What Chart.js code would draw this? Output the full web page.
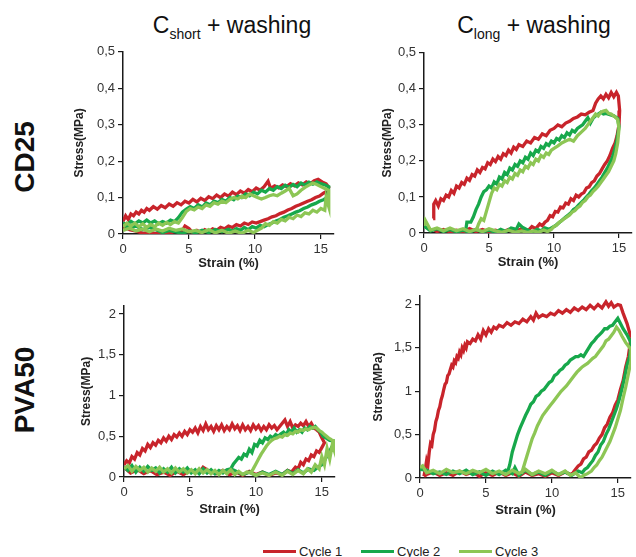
<!DOCTYPE html>
<html>
<head>
<meta charset="utf-8">
<script src="https://cdn.jsdelivr.net/npm/chart.js@4.4.0/dist/chart.umd.min.js"></script>
<style>
    body { margin: 0; background: #fff; font-family: "Liberation Sans", Arial, sans-serif; }
    #page { position: relative; width: 636px; height: 557px; overflow: hidden; }
    #page canvas { position: absolute; }
    .col-title { position: absolute; top: 14px; font-size: 23px; line-height: 23px; color: #111; white-space: nowrap; transform: translateX(-50%); }
    .col-title sub { font-size: 14px; }
    .row-label { position: absolute; font-size: 28px; font-weight: bold; color: #111; white-space: nowrap; transform: translate(-50%, -50%) rotate(-90deg); }
    .legend-item { position: absolute; top: 544px; font-size: 13px; color: #222; white-space: nowrap; line-height: 16px; }
    .legend-item span { display: inline-block; width: 33px; height: 3px; margin-right: 3px; vertical-align: middle; position: relative; top: -1px; }
</style>
</head>
<body>
<div id="page">
    <div class="col-title" style="left:232px">C<sub>short</sub> + washing</div>
    <div class="col-title" style="left:534px">C<sub>long</sub> + washing</div>
    <div class="row-label" style="left:25px; top:157px">CD25</div>
    <div class="row-label" style="left:25px; top:390px">PVA50</div>
    <div id="legend"></div>
</div>
<script>
const strainTicks = [0, 5, 10, 15];
const stressTicksCD25 = [0, 0.1, 0.2, 0.3, 0.4, 0.5];
const stressTicksPVA50 = [0, 0.5, 1, 1.5, 2];
const cycleLabels = ['Cycle 1', 'Cycle 2', 'Cycle 3'];
const cycleColors = ['#c8242b', '#17a84b', '#8dc655'];

// Cshort + washing, CD25
const shortCD25Cycle1 = [[0,0.035],[0.2,0.05],[0.4,0.04],[0.6,0.055],[0.8,0.05],[1.0,0.06],[1.2,0.055],[1.4,0.065],[1.6,0.06],[1.8,0.07],[2.0,0.065],[2.3,0.075],[2.6,0.068],[2.9,0.078],[3.2,0.072],[3.5,0.082],[3.8,0.076],[4.1,0.086],[4.4,0.08],[4.7,0.09],[5.0,0.085],[5.3,0.095],[5.6,0.088],[5.9,0.098],[6.2,0.092],[6.5,0.102],[6.8,0.097],[7.1,0.107],[7.4,0.1],[7.7,0.11],[8.0,0.104],[8.3,0.115],[8.6,0.108],[8.9,0.118],[9.2,0.112],[9.5,0.122],[9.8,0.116],[10.1,0.126],[10.4,0.12],[10.7,0.13],[11.0,0.145],[11.2,0.125],[11.5,0.132],[11.8,0.127],[12.1,0.135],[12.4,0.13],[12.7,0.138],[13.0,0.132],[13.3,0.14],[13.6,0.135],[13.9,0.143],[14.2,0.138],[14.5,0.146],[14.8,0.15],[15.1,0.143],[15.4,0.138],[15.6,0.128],
    [15.5,0.118],[15.2,0.112],[14.9,0.104],[14.6,0.1],[14.3,0.094],[14.0,0.09],[13.7,0.085],[13.4,0.08],[13.1,0.076],[12.8,0.07],[12.5,0.066],[12.2,0.06],[11.9,0.056],[11.6,0.05],[11.3,0.047],[11.0,0.042],[10.7,0.038],[10.4,0.034],[10.1,0.03],[9.8,0.033],[9.5,0.026],[9.2,0.03],[8.9,0.022],[8.6,0.026],[8.3,0.018],[8.0,0.022],[7.7,0.014],[7.4,0.018],[7.1,0.01],[6.8,0.014],[6.5,0.006],[6.2,0.012],[5.9,0.004],[5.6,0.01],[5.3,0.003],[5.0,0.015],[4.7,0.022],[4.4,0.004],[4.0,0.008],[3.5,0.002],[3.0,0.006],[2.5,0.001],[2.0,0.005],[1.5,0.002],[1.0,0.008],[0.5,0.012],[0,0.02]];
const shortCD25Cycle2 = [[0,0.03],[0.3,0.025],[0.6,0.035],[0.9,0.028],[1.2,0.036],[1.5,0.03],[1.8,0.038],[2.1,0.03],[2.4,0.036],[2.7,0.028],[3.0,0.034],[3.3,0.03],[3.6,0.038],[3.9,0.034],[4.2,0.045],[4.5,0.06],[4.8,0.068],[5.1,0.075],[5.4,0.07],[5.7,0.08],[6.0,0.074],[6.3,0.085],[6.6,0.08],[6.9,0.09],[7.2,0.086],[7.5,0.095],[7.8,0.09],[8.1,0.1],[8.4,0.094],[8.7,0.104],[9.0,0.1],[9.3,0.11],[9.6,0.105],[9.9,0.115],[10.2,0.11],[10.5,0.12],[10.8,0.115],[11.1,0.125],[11.4,0.12],[11.7,0.13],[12.0,0.125],[12.3,0.134],[12.6,0.128],[12.9,0.136],[13.2,0.13],[13.5,0.14],[13.8,0.134],[14.1,0.142],[14.4,0.137],[14.7,0.143],[15.0,0.138],[15.3,0.135],[15.6,0.13],
    [15.5,0.1],[15.2,0.094],[14.9,0.09],[14.6,0.084],[14.3,0.08],[14.0,0.074],[13.7,0.07],[13.4,0.064],[13.1,0.06],[12.8,0.055],[12.5,0.05],[12.2,0.046],[11.9,0.04],[11.6,0.036],[11.3,0.03],[11.0,0.026],[10.7,0.02],[10.4,0.024],[10.1,0.016],[9.8,0.02],[9.5,0.012],[9.2,0.018],[8.9,0.01],[8.6,0.015],[8.3,0.008],[8.0,0.013],[7.5,0.006],[7.0,0.012],[6.5,0.004],[6.0,0.01],[5.5,0.003],[5.0,0.008],[4.5,0.002],[4.0,0.006],[3.5,0.01],[3.0,0.004],[2.5,0.012],[2.0,0.018],[1.5,0.012],[1.0,0.022],[0.5,0.016],[0,0.025]];
const shortCD25Cycle3 = [[0,0.02],[0.3,0.03],[0.6,0.022],[0.9,0.03],[1.2,0.02],[1.5,0.028],[1.8,0.018],[2.1,0.026],[2.4,0.02],[2.7,0.03],[3.0,0.024],[3.3,0.032],[3.6,0.026],[3.9,0.034],[4.2,0.03],[4.5,0.045],[4.8,0.062],[5.1,0.07],[5.4,0.066],[5.7,0.074],[6.0,0.07],[6.3,0.08],[6.6,0.076],[6.9,0.086],[7.2,0.082],[7.5,0.09],[7.8,0.086],[8.1,0.095],[8.4,0.1],[8.7,0.096],[9.0,0.104],[9.3,0.1],[9.6,0.11],[9.9,0.105],[10.2,0.1],[10.5,0.096],[10.8,0.1],[11.1,0.105],[11.4,0.108],[11.7,0.105],[12.0,0.112],[12.3,0.118],[12.6,0.125],[12.9,0.105],[13.2,0.11],[13.5,0.12],[13.8,0.128],[14.1,0.134],[14.4,0.14],[14.7,0.136],[15.0,0.13],[15.3,0.125],[15.6,0.12],
    [15.6,0.075],[15.4,0.1],[15.3,0.065],[15.0,0.07],[14.7,0.06],[14.4,0.065],[14.1,0.055],[13.8,0.058],[13.5,0.048],[13.2,0.052],[12.9,0.042],[12.6,0.046],[12.3,0.036],[12.0,0.04],[11.7,0.03],[11.4,0.034],[11.1,0.024],[10.8,0.028],[10.5,0.016],[10.2,0.01],[9.9,0.004],[9.5,0.01],[9.0,0.002],[8.5,0.008],[8.0,0.002],[7.5,0.01],[7.0,0.003],[6.5,0.012],[6.0,0.004],[5.5,0.01],[5.0,0.006],[4.5,0.014],[4.0,0.01],[3.5,0.016],[3.0,0.008],[2.5,0.014],[2.0,0.006],[1.5,0.014],[1.0,0.008],[0.5,0.016],[0,0.01]];

// Clong + washing, CD25
const longCD25Cycle1 = [[0.7,0.04],[0.75,0.08],[0.9,0.09],[1.1,0.075],[1.3,0.095],[1.5,0.09],[1.7,0.105],[1.9,0.1],[2.1,0.118],[2.3,0.11],[2.5,0.13],[2.7,0.125],[2.9,0.14],[3.1,0.135],[3.3,0.152],[3.5,0.146],[3.7,0.162],[3.9,0.158],[4.1,0.175],[4.3,0.168],[4.5,0.182],[4.7,0.178],[4.9,0.195],[5.1,0.19],[5.3,0.205],[5.5,0.198],[5.7,0.212],[5.9,0.205],[6.1,0.22],[6.3,0.215],[6.5,0.23],[6.7,0.222],[6.9,0.238],[7.1,0.232],[7.3,0.245],[7.6,0.24],[7.9,0.255],[8.2,0.25],[8.5,0.265],[8.8,0.26],[9.1,0.275],[9.4,0.27],[9.7,0.285],[10.0,0.29],[10.3,0.3],[10.6,0.295],[10.9,0.305],[11.2,0.31],[11.5,0.318],[11.8,0.322],[12.1,0.33],[12.4,0.328],[12.7,0.335],[13.0,0.34],[13.2,0.36],[13.4,0.372],[13.6,0.38],[13.8,0.372],[14.0,0.385],[14.2,0.375],[14.4,0.39],[14.6,0.378],[14.8,0.39],[14.95,0.38],[15.05,0.34],[15.0,0.3],
    [14.85,0.27],[14.7,0.25],[14.5,0.235],[14.3,0.215],[14.1,0.2],[13.9,0.19],[13.7,0.178],[13.5,0.165],[13.3,0.158],[13.1,0.145],[12.9,0.14],[12.7,0.128],[12.5,0.125],[12.3,0.112],[12.1,0.108],[11.9,0.1],[11.7,0.105],[11.5,0.09],[11.3,0.095],[11.1,0.08],[10.9,0.083],[10.7,0.07],[10.5,0.072],[10.3,0.058],[10.1,0.06],[9.9,0.045],[9.7,0.048],[9.5,0.035],[9.3,0.03],[9.1,0.02],[8.9,0.025],[8.6,0.012],[8.3,0.018],[8.0,0.006],[7.5,0.012],[7.0,0.004],[6.5,0.01],[6.0,0.002],[5.5,0.008],[5.0,0.003],[4.5,0.01],[4.0,0.004],[3.5,0.012],[3.0,0.002],[2.5,0.008],[2.0,0.003],[1.5,0.01],[1.0,0.004],[0.7,0.01]];
const longCD25Cycle2 = [[3.2,0.005],[3.3,0.03],[3.6,0.03],[3.8,0.045],[4.0,0.065],[4.2,0.08],[4.4,0.1],[4.6,0.115],[4.8,0.12],[5.0,0.13],[5.2,0.125],[5.4,0.142],[5.6,0.136],[5.8,0.155],[6.0,0.15],[6.2,0.168],[6.4,0.162],[6.6,0.18],[6.8,0.175],[7.0,0.19],[7.2,0.185],[7.4,0.2],[7.6,0.195],[7.8,0.21],[8.0,0.205],[8.2,0.222],[8.4,0.215],[8.6,0.23],[8.8,0.225],[9.0,0.24],[9.2,0.235],[9.4,0.248],[9.6,0.243],[9.8,0.255],[10.0,0.25],[10.2,0.262],[10.4,0.258],[10.6,0.27],[10.8,0.265],[11.0,0.278],[11.2,0.272],[11.4,0.285],[11.6,0.28],[11.8,0.29],[12.0,0.295],[12.2,0.3],[12.4,0.31],[12.6,0.32],[12.8,0.305],[13.0,0.318],[13.2,0.325],[13.4,0.33],[13.6,0.335],[13.8,0.33],[14.0,0.332],[14.3,0.328],[14.6,0.325],[14.9,0.318],[15.0,0.295],
    [14.85,0.26],[14.7,0.235],[14.5,0.21],[14.3,0.195],[14.1,0.18],[13.9,0.168],[13.7,0.155],[13.5,0.145],[13.3,0.135],[13.1,0.125],[12.9,0.118],[12.7,0.108],[12.5,0.1],[12.3,0.092],[12.1,0.085],[11.9,0.078],[11.7,0.07],[11.5,0.065],[11.3,0.056],[11.1,0.05],[10.9,0.044],[10.7,0.038],[10.5,0.032],[10.3,0.026],[10.1,0.02],[9.9,0.016],[9.6,0.01],[9.3,0.014],[9.0,0.006],[8.7,0.01],[8.3,0.002],[8.0,0.008],[7.6,0.015],[7.3,0.025],[7.1,0.01],[6.7,0.014],[6.3,0.004],[5.9,0.01],[5.5,0.002],[5.0,0.008],[4.5,0.003],[4.0,0.01],[3.5,0.002],[3.0,0.008],[2.5,0.003],[2.0,0.01],[1.5,0.004],[1.0,0.012],[0.5,0.006],[0,0.02]];
const longCD25Cycle3 = [[4.0,0.005],[4.2,0.025],[4.4,0.04],[4.6,0.035],[4.8,0.06],[5.0,0.085],[5.2,0.11],[5.4,0.125],[5.6,0.12],[5.8,0.135],[6.0,0.13],[6.2,0.145],[6.4,0.14],[6.6,0.155],[6.8,0.15],[7.0,0.165],[7.2,0.16],[7.4,0.175],[7.6,0.17],[7.8,0.185],[8.0,0.18],[8.2,0.195],[8.4,0.19],[8.6,0.205],[8.8,0.2],[9.0,0.215],[9.2,0.21],[9.4,0.222],[9.6,0.218],[9.8,0.23],[10.0,0.235],[10.3,0.242],[10.6,0.25],[10.9,0.255],[11.2,0.26],[11.5,0.255],[11.8,0.27],[12.1,0.28],[12.4,0.29],[12.7,0.305],[13.0,0.32],[13.2,0.33],[13.4,0.325],[13.6,0.335],[13.8,0.338],[14.0,0.34],[14.2,0.332],[14.4,0.33],[14.7,0.322],[14.9,0.315],[15.0,0.29],
    [14.9,0.25],[14.75,0.22],[14.6,0.2],[14.4,0.185],[14.2,0.17],[14.0,0.16],[13.8,0.15],[13.6,0.14],[13.4,0.13],[13.2,0.122],[13.0,0.115],[12.8,0.105],[12.6,0.1],[12.4,0.09],[12.2,0.085],[12.0,0.075],[11.8,0.07],[11.6,0.062],[11.4,0.058],[11.2,0.05],[11.0,0.045],[10.8,0.04],[10.6,0.034],[10.4,0.03],[10.2,0.022],[10.0,0.018],[9.8,0.01],[9.5,0.004],[9.2,0.008],[8.8,0.002],[8.4,0.006],[8.0,0.001],[7.5,0.006],[7.0,0.002],[6.5,0.008],[6.0,0.002],[5.5,0.006],[5.0,0.012],[4.5,0.004],[4.0,0.01],[3.5,0.004],[3.0,0.012],[2.5,0.006],[2.0,0.014],[1.5,0.006],[1.0,0.014],[0.5,0.008],[0.1,0.035],[0,0.02]];

// Cshort + washing, PVA50
const shortPVA50Cycle1 = [[0,0.15],[0.2,0.2],[0.4,0.17],[0.6,0.25],[0.8,0.22],[1.0,0.3],[1.2,0.27],[1.4,0.35],[1.6,0.32],[1.8,0.4],[2.0,0.36],[2.2,0.42],[2.4,0.39],[2.6,0.45],[2.8,0.42],[3.0,0.48],[3.2,0.44],[3.4,0.5],[3.6,0.46],[3.8,0.52],[4.0,0.49],[4.2,0.54],[4.4,0.5],[4.6,0.56],[4.8,0.52],[5.0,0.58],[5.2,0.55],[5.4,0.6],[5.6,0.54],[5.8,0.62],[6.0,0.57],[6.2,0.65],[6.4,0.58],[6.6,0.62],[6.8,0.56],[7.0,0.63],[7.2,0.58],[7.4,0.64],[7.6,0.57],[7.8,0.62],[8.0,0.58],[8.2,0.65],[8.4,0.59],[8.6,0.63],[8.8,0.57],[9.0,0.64],[9.2,0.58],[9.4,0.62],[9.6,0.57],[9.8,0.64],[10.0,0.59],[10.2,0.63],[10.4,0.57],[10.6,0.62],[10.8,0.58],[11.0,0.64],[11.2,0.6],[11.4,0.63],[11.6,0.58],[11.8,0.62],[12.0,0.66],[12.2,0.7],[12.4,0.62],[12.6,0.68],[12.8,0.6],[13.0,0.64],[13.2,0.62],[13.4,0.66],[13.6,0.63],[13.8,0.68],[14.0,0.62],[14.2,0.66],[14.4,0.6],[14.6,0.58],[14.8,0.55],[15.0,0.48],[15.2,0.42],
    [15.0,0.36],[14.8,0.3],[14.6,0.32],[14.4,0.25],[14.2,0.27],[14.0,0.2],[13.8,0.22],[13.6,0.15],[13.4,0.18],[13.2,0.1],[13.0,0.12],[12.7,0.06],[12.4,0.08],[12.0,0.03],[11.5,0.05],[11.0,0.02],[10.5,0.06],[10.0,0.03],[9.5,0.07],[9.0,0.02],[8.5,0.06],[8.0,0.03],[7.5,0.08],[7.0,0.04],[6.5,0.07],[6.0,0.12],[5.7,0.05],[5.0,0.08],[4.5,0.03],[4.0,0.07],[3.5,0.02],[3.0,0.06],[2.5,0.03],[2.0,0.08],[1.5,0.04],[1.0,0.09],[0.5,0.05],[0,0.12]];
const shortPVA50Cycle2 = [[0,0.12],[0.3,0.08],[0.6,0.14],[0.9,0.06],[1.2,0.12],[1.5,0.07],[1.8,0.13],[2.1,0.08],[2.4,0.11],[2.7,0.05],[3.0,0.1],[3.3,0.06],[3.6,0.12],[3.9,0.05],[4.2,0.1],[4.5,0.06],[4.8,0.11],[5.1,0.05],[5.4,0.09],[5.7,0.04],[6.0,0.1],[6.3,0.05],[6.6,0.09],[6.9,0.04],[7.2,0.08],[7.5,0.05],[7.8,0.09],[8.1,0.1],[8.3,0.16],[8.5,0.2],[8.7,0.24],[8.9,0.22],[9.1,0.28],[9.3,0.26],[9.5,0.34],[9.7,0.3],[9.9,0.4],[10.1,0.38],[10.3,0.45],[10.5,0.42],[10.7,0.48],[10.9,0.46],[11.1,0.5],[11.3,0.48],[11.5,0.52],[11.7,0.5],[11.9,0.53],[12.1,0.55],[12.3,0.52],[12.5,0.58],[12.7,0.55],[12.9,0.6],[13.1,0.55],[13.3,0.58],[13.5,0.55],[13.7,0.6],[13.9,0.58],[14.1,0.62],[14.3,0.6],[14.5,0.62],[14.7,0.58],[14.9,0.55],[15.1,0.5],[15.3,0.48],[15.6,0.45],[16,0.44],
    [15.8,0.38],[15.6,0.32],[15.4,0.26],[15.2,0.2],[15.0,0.15],[14.7,0.12],[14.4,0.08],[14.0,0.1],[13.6,0.05],[13.2,0.09],[12.8,0.04],[12.4,0.08],[12.0,0.03],[11.5,0.07],[11.0,0.03],[10.5,0.06],[10.0,0.02],[9.5,0.06],[9.0,0.03],[8.5,0.07],[8.1,0.1]];
const shortPVA50Cycle3 = [[0,0.1],[0.3,0.14],[0.6,0.07],[0.9,0.13],[1.2,0.08],[1.5,0.12],[1.8,0.06],[2.1,0.11],[2.4,0.07],[2.7,0.12],[3.0,0.06],[3.3,0.1],[3.6,0.05],[3.9,0.11],[4.2,0.06],[4.5,0.1],[4.8,0.05],[5.1,0.09],[5.4,0.04],[5.7,0.1],[6.0,0.05],[6.3,0.09],[6.6,0.04],[6.9,0.08],[7.2,0.03],[7.5,0.08],[7.8,0.04],[8.1,0.09],[8.4,0.03],[8.7,0.07],[9.0,0.03],[9.3,0.06],[9.6,0.05],[9.8,0.1],[10.0,0.16],[10.2,0.22],[10.4,0.28],[10.6,0.33],[10.8,0.38],[11.0,0.42],[11.2,0.45],[11.4,0.47],[11.6,0.48],[11.8,0.5],[12.0,0.49],[12.2,0.52],[12.4,0.51],[12.6,0.54],[12.8,0.53],[13.0,0.56],[13.2,0.55],[13.4,0.58],[13.6,0.57],[13.8,0.59],[14.0,0.58],[14.2,0.6],[14.4,0.61],[14.6,0.6],[14.8,0.57],[15.0,0.55],[15.2,0.52],[15.5,0.48],[15.8,0.45],[16,0.44],
    [16,0.3],[15.8,0.4],[15.6,0.22],[15.4,0.35],[15.2,0.15],[15.0,0.25],[14.8,0.1],[14.5,0.15],[14.2,0.06],[13.9,0.1],[13.6,0.04],[13.2,0.08],[12.8,0.03],[12.4,0.07],[12.0,0.02],[11.5,0.06],[11.0,0.02],[10.5,0.05],[10.0,0.02],[9.6,0.05]];

// Clong + washing, PVA50
const longPVA50Cycle1 = [[0.3,0.02],[0.4,0.1],[0.5,0.2],[0.6,0.15],[0.7,0.3],[0.8,0.4],[0.9,0.38],[1.0,0.5],[1.1,0.55],[1.2,0.65],[1.3,0.7],[1.4,0.78],[1.5,0.82],[1.6,0.9],[1.7,0.95],[1.8,1.02],[1.9,1.08],[2.0,1.1],[2.1,1.18],[2.2,1.2],[2.3,1.25],[2.4,1.3],[2.5,1.28],[2.6,1.35],[2.7,1.33],[2.8,1.4],[2.9,1.38],[3.0,1.45],[3.1,1.42],[3.2,1.5],[3.3,1.47],[3.4,1.53],[3.5,1.5],[3.6,1.57],[3.8,1.55],[4.0,1.6],[4.2,1.58],[4.4,1.65],[4.6,1.6],[4.8,1.7],[5.0,1.65],[5.2,1.72],[5.4,1.68],[5.6,1.74],[5.8,1.72],[6.0,1.76],[6.3,1.74],[6.6,1.79],[6.9,1.76],[7.2,1.8],[7.5,1.78],[7.8,1.83],[8.1,1.8],[8.4,1.86],[8.6,1.82],[8.8,1.9],[9.0,1.85],[9.3,1.88],[9.6,1.86],[9.9,1.9],[10.2,1.88],[10.5,1.93],[10.8,1.9],[11.1,1.94],[11.4,1.91],[11.7,1.96],[12.0,1.93],[12.3,1.97],[12.6,1.94],[12.9,1.99],[13.2,1.95],[13.5,2.0],[13.8,1.96],[14.1,2.03],[14.3,1.98],[14.5,2.02],[14.7,1.97],[15.0,2.0],[15.2,1.99],[15.4,1.9],[15.7,1.78],[16,1.62],
    [15.8,1.4],[15.6,1.28],[15.4,1.12],[15.2,1.02],[15.0,0.9],[14.8,0.84],[14.6,0.75],[14.4,0.7],[14.2,0.62],[14.0,0.58],[13.8,0.5],[13.6,0.46],[13.4,0.4],[13.2,0.37],[13.0,0.32],[12.8,0.3],[12.6,0.24],[12.4,0.22],[12.2,0.16],[12.0,0.14],[11.8,0.1],[11.6,0.06],[11.4,0.04],[11.0,0.07],[10.5,0.03],[10.0,0.06],[9.5,0.02],[9.0,0.05],[8.5,0.03],[8.0,0.07],[7.5,0.02],[7.0,0.06],[6.5,0.03],[6.0,0.07],[5.5,0.03],[5.0,0.06],[4.5,0.02],[4.0,0.07],[3.5,0.04],[3.0,0.08],[2.5,0.03],[2.0,0.06],[1.5,0.03],[1.0,0.07],[0.5,0.04],[0.3,0.02]];
const longPVA50Cycle2 = [[6.6,0.05],[6.8,0.15],[7.0,0.3],[7.2,0.4],[7.4,0.5],[7.6,0.58],[7.8,0.65],[8.0,0.72],[8.2,0.78],[8.4,0.85],[8.6,0.88],[8.8,0.94],[9.0,0.96],[9.2,1.0],[9.4,1.02],[9.6,1.06],[9.8,1.1],[10.0,1.12],[10.2,1.18],[10.4,1.2],[10.6,1.24],[10.8,1.26],[11.0,1.3],[11.2,1.32],[11.4,1.36],[11.6,1.38],[11.8,1.4],[12.0,1.4],[12.2,1.42],[12.4,1.4],[12.6,1.45],[12.8,1.5],[13.0,1.55],[13.2,1.58],[13.4,1.62],[13.6,1.65],[13.8,1.68],[14.0,1.72],[14.2,1.72],[14.4,1.75],[14.6,1.76],[14.8,1.8],[15.0,1.84],[15.2,1.78],[15.4,1.72],[15.7,1.65],[16,1.56],
    [15.9,1.4],[15.7,1.3],[15.5,1.15],[15.3,1.02],[15.1,0.9],[14.9,0.8],[14.7,0.72],[14.5,0.64],[14.3,0.56],[14.1,0.5],[13.9,0.42],[13.7,0.38],[13.5,0.3],[13.3,0.26],[13.1,0.2],[12.9,0.16],[12.7,0.12],[12.5,0.1],[12.3,0.06],[12.0,0.08],[11.5,0.03],[11.0,0.07],[10.5,0.04],[10.0,0.08],[9.5,0.03],[9.0,0.07],[8.5,0.04],[8.0,0.09],[7.5,0.03],[7.2,0.12],[7.0,0.05],[6.5,0.09],[6.0,0.04],[5.5,0.08],[5.0,0.03],[4.5,0.07],[4.0,0.04],[3.5,0.09],[3.0,0.05],[2.5,0.08],[2.0,0.04],[1.5,0.07],[1.0,0.05],[0.5,0.09],[0,0.1]];
const longPVA50Cycle3 = [[7.7,0.05],[7.9,0.15],[8.1,0.25],[8.3,0.35],[8.5,0.45],[8.7,0.52],[8.9,0.6],[9.1,0.66],[9.3,0.72],[9.5,0.76],[9.7,0.8],[9.9,0.84],[10.1,0.88],[10.3,0.92],[10.5,0.96],[10.7,1.0],[10.9,1.03],[11.1,1.06],[11.3,1.1],[11.5,1.14],[11.7,1.18],[11.9,1.22],[12.1,1.25],[12.3,1.28],[12.5,1.3],[12.7,1.32],[12.9,1.35],[13.1,1.38],[13.3,1.4],[13.5,1.44],[13.7,1.48],[13.9,1.52],[14.1,1.58],[14.3,1.6],[14.5,1.64],[14.7,1.68],[14.9,1.74],[15.1,1.7],[15.3,1.64],[15.6,1.56],[16,1.48],
    [16,1.35],[15.8,1.2],[15.6,1.05],[15.4,0.92],[15.2,0.78],[15.0,0.68],[14.8,0.58],[14.6,0.5],[14.4,0.42],[14.2,0.36],[14.0,0.3],[13.8,0.24],[13.6,0.2],[13.4,0.15],[13.2,0.12],[13.0,0.08],[12.7,0.05],[12.4,0.03],[12.2,0.0],[11.8,0.06],[11.4,0.03],[11.0,0.08],[10.5,0.04],[10.0,0.09],[9.5,0.05],[9.0,0.08],[8.5,0.04],[8.0,0.1],[7.5,0.05],[7.0,0.09],[6.5,0.04],[6.0,0.08],[5.5,0.05],[5.0,0.1],[4.5,0.06],[4.0,0.09],[3.5,0.05],[3.0,0.08],[2.5,0.06],[2.0,0.1],[1.5,0.05],[1.0,0.09],[0.5,0.06],[0.2,0.14],[0,0.12]];

// plot-area placement of each panel on the page
const panels = [
    { cycles: [shortCD25Cycle1, shortCD25Cycle2, shortCD25Cycle3], yMax: 0.5, yTicks: stressTicksCD25, left: 123, right: 334, top: 51, bottom: 234, yTitleGap: 43, xTitleGap: 29 },
    { cycles: [longCD25Cycle1, longCD25Cycle2, longCD25Cycle3], yMax: 0.5, yTicks: stressTicksCD25, left: 424, right: 632, top: 52, bottom: 233, yTitleGap: 36, xTitleGap: 29 },
    { cycles: [shortPVA50Cycle1, shortPVA50Cycle2, shortPVA50Cycle3], yMax: 2.1, yTicks: stressTicksPVA50, left: 124, right: 335, top: 305, bottom: 477, yTitleGap: 37, xTitleGap: 32 },
    { cycles: [longPVA50Cycle1, longPVA50Cycle2, longPVA50Cycle3], yMax: 2.1, yTicks: stressTicksPVA50, left: 420, right: 631, top: 295, bottom: 478, yTitleGap: 41, xTitleGap: 32 }
];

Chart.defaults.font.family = '"Liberation Sans", Arial, sans-serif';
Chart.defaults.color = '#333';

const Y_AXIS_W = 52;
const X_AXIS_H = 40;
const PAD_TOP = 10;
const PAD_RIGHT = 4;
const Y_TITLE_SIZE = 12;
const X_TITLE_SIZE = 13;

const page = document.getElementById('page');

panels.forEach(panel => {
    const canvas = document.createElement('canvas');
    const width = Y_AXIS_W + (panel.right - panel.left) + PAD_RIGHT;
    const height = PAD_TOP + (panel.bottom - panel.top) + X_AXIS_H;
    canvas.width = width;
    canvas.height = height;
    canvas.style.width = width + 'px';
    canvas.style.height = height + 'px';
    canvas.style.left = (panel.left - Y_AXIS_W) + 'px';
    canvas.style.top = (panel.top - PAD_TOP) + 'px';
    page.appendChild(canvas);

    const yTitlePad = Y_AXIS_W - panel.yTitleGap - Y_TITLE_SIZE * 1.2 / 2;
    const xTitlePad = X_AXIS_H - panel.xTitleGap - X_TITLE_SIZE * 1.2 / 2;

    new Chart(canvas, {
        type: 'scatter',
        data: {
            datasets: panel.cycles.map((points, i) => ({
                label: cycleLabels[i],
                data: points,
                showLine: true,
                borderColor: cycleColors[i],
                backgroundColor: cycleColors[i],
                borderWidth: 3.3,
                pointRadius: 0,
                tension: 0,
                order: 3 - i
            }))
        },
        options: {
            responsive: false,
            animation: false,
            events: [],
            layout: { padding: { top: PAD_TOP, right: PAD_RIGHT, left: 0, bottom: 0 } },
            plugins: {
                legend: { display: false },
                tooltip: { enabled: false }
            },
            scales: {
                x: {
                    type: 'linear',
                    min: 0,
                    max: 16,
                    afterBuildTicks: scale => { scale.ticks = strainTicks.map(v => ({ value: v })); },
                    afterFit: scale => { scale.height = X_AXIS_H; },
                    border: { color: '#1a1a1a', width: 1.5 },
                    grid: { drawOnChartArea: false, drawTicks: true, tickLength: 5, color: '#1a1a1a', lineWidth: 1.2 },
                    ticks: { padding: 3, font: { size: 13 }, color: '#333', maxRotation: 0 },
                    title: {
                        display: true,
                        text: 'Strain (%)',
                        color: '#222',
                        font: { size: X_TITLE_SIZE, weight: 'bold' },
                        padding: { top: 0, bottom: xTitlePad }
                    }
                },
                y: {
                    type: 'linear',
                    min: 0,
                    max: panel.yMax,
                    afterBuildTicks: scale => { scale.ticks = panel.yTicks.map(v => ({ value: v })); },
                    afterFit: scale => { scale.width = Y_AXIS_W; },
                    border: { color: '#1a1a1a', width: 1.5 },
                    grid: { drawOnChartArea: false, drawTicks: true, tickLength: 5, color: '#1a1a1a', lineWidth: 1.2 },
                    ticks: {
                        padding: 3,
                        font: { size: 13 },
                        color: '#333',
                        callback: value => String(value).replace('.', ',')
                    },
                    title: {
                        display: true,
                        text: 'Stress(MPa)',
                        color: '#222',
                        font: { size: Y_TITLE_SIZE, weight: 'bold' },
                        padding: { top: yTitlePad, bottom: 0 }
                    }
                }
            }
        }
    });
});

// legend
const legendLeft = [263, 361, 459];
const legend = document.getElementById('legend');
cycleLabels.forEach((label, i) => {
    const item = document.createElement('div');
    item.className = 'legend-item';
    item.style.left = legendLeft[i] + 'px';
    const swatch = document.createElement('span');
    swatch.style.background = cycleColors[i];
    item.appendChild(swatch);
    item.appendChild(document.createTextNode(label));
    legend.appendChild(item);
});
</script>
</body>
</html>
